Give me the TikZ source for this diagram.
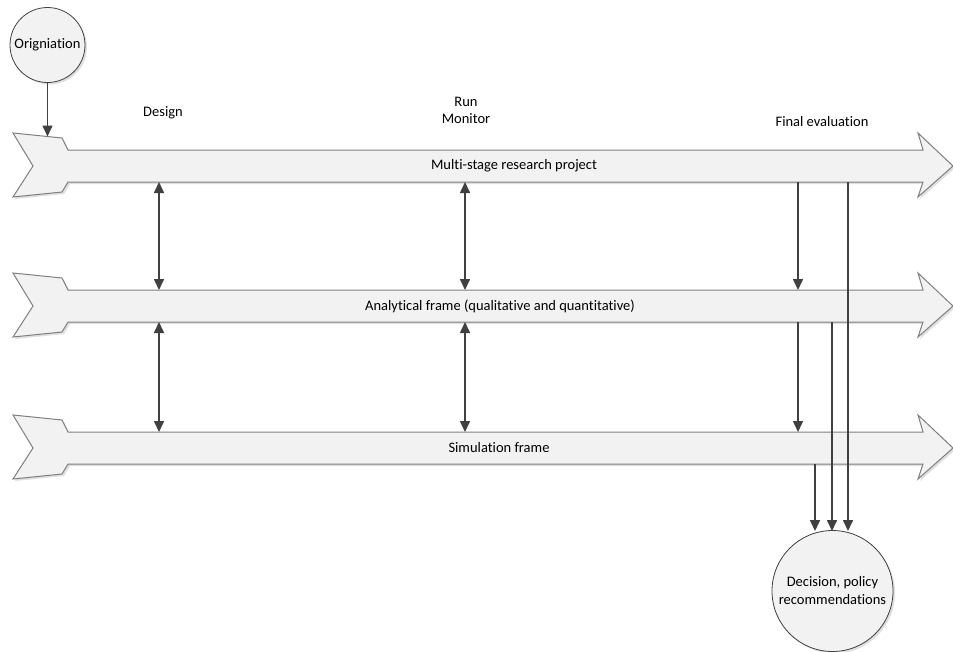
\documentclass[tikz,border=0pt]{standalone}
\usepackage{fontspec}
\setmainfont{Carlito}[Ligatures={NoCommon}]
\usetikzlibrary{arrows.meta,shadows}
\definecolor{edge}{HTML}{7F7F7F}
\definecolor{conn}{HTML}{404040}
\definecolor{shapefill}{HTML}{F2F2F2}
\tikzset{
  bigarrow/.style={draw=edge, line width=1pt, fill=shapefill, line join=miter,
    drop shadow={shadow xshift=2pt, shadow yshift=-2pt, opacity=0.25, fill=gray}},
  lbl/.style={font=\fontsize{14.5}{17}\selectfont, text=black, inner sep=0pt, align=center},
  circ/.style={circle, draw=conn, line width=0.8pt, fill=shapefill, inner sep=0pt,
    font=\fontsize{14.5}{18}\selectfont, align=center,
    drop shadow={shadow xshift=2pt, shadow yshift=-2pt, opacity=0.25, fill=gray}},
  conarrow/.style={draw=conn, line width=1.6pt, -{Triangle[length=11pt,width=10pt]}},
  dblarrow/.style={draw=conn, line width=1.6pt, {Triangle[length=11pt,width=10pt]}-{Triangle[length=11pt,width=10pt]}},
}
\newcommand{\bigarr}[1]{%
  \path[bigarrow] (13,#1-33) -- (62,#1-28) -- (68,#1-16) -- (923,#1-16) -- (918,#1-33)
    -- (953,#1) -- (918,#1+31) -- (923,#1+16) -- (68,#1+16) -- (62,#1+26)
    -- (13,#1+31) -- (33,#1) -- cycle;}
\begin{document}
\begin{tikzpicture}[x=1pt,y=-1pt]
\useasboundingbox (0,0) rectangle (953,651);
% big arrows
\bigarr{166}
\bigarr{306}
\bigarr{448}
% labels on arrows
\node[lbl] (l1) at (514,166) {Multi-stage research project};
\node[lbl] (l2) at (500,306) {Analytical frame (qualitative and quantitative)};
\node[lbl] (l3) at (499,448) {Simulation frame};
% stage labels
\node[lbl] (design) at (163,113) {Design};
\node[lbl] (run) at (466,110) {Run\\Monitor};
\node[lbl] (final) at (822,122) {Final evaluation};
% circles
\node[circ, minimum size=75pt] (orig) at (47.5,45) {Origniation};
\node[circ, minimum size=121pt] (dec) at (832.5,591) {Decision, policy\\recommendations};
% connector end points on arrow edges
\coordinate (a1in) at (47.5,136.5);
\coordinate (b1d) at (159,182); \coordinate (b2u) at (159,290);
\coordinate (b2d) at (159,322); \coordinate (b3u) at (159,432);
\coordinate (c1d) at (465,182); \coordinate (c2u) at (465,290);
\coordinate (c2d) at (465,322); \coordinate (c3u) at (465,432);
\coordinate (e1d) at (798,182); \coordinate (e2u) at (798,290);
\coordinate (e2d) at (798,322); \coordinate (e3u) at (798,432);
\coordinate (f1d) at (848,182); \coordinate (f2d) at (832,322); \coordinate (f3d) at (815,464);
\coordinate (g1) at (848,531); \coordinate (g2) at (832,531); \coordinate (g3) at (815,531);
% connectors
\draw[conarrow] (orig) -- (a1in);
\draw[dblarrow] (b1d) -- (b2u);
\draw[dblarrow] (b2d) -- (b3u);
\draw[dblarrow] (c1d) -- (c2u);
\draw[dblarrow] (c2d) -- (c3u);
\draw[conarrow] (e1d) -- (e2u);
\draw[conarrow] (e2d) -- (e3u);
\draw[conarrow] (f1d) -- (g1);
\draw[conarrow] (f2d) -- (g2);
\draw[conarrow] (f3d) -- (g3);
\end{tikzpicture}
\end{document}
